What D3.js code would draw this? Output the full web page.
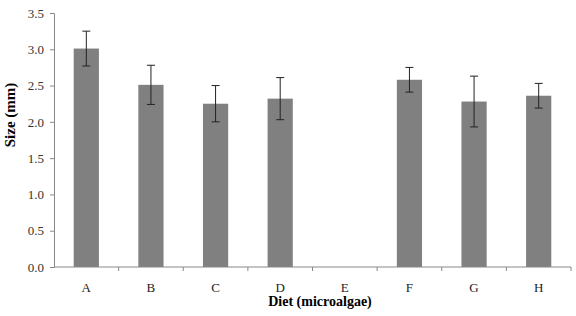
<!DOCTYPE html>
<html>
<head>
<meta charset="utf-8">
<script src="https://cdn.jsdelivr.net/npm/d3@7"></script>
<style>
  body { margin: 0; background: #fff; }
  text { font-family: "Liberation Serif", "Times New Roman", serif; }
</style>
</head>
<body>
<div id="chart"></div>
<script>
// chart values
const diets = ["A", "B", "C", "D", "E", "F", "G", "H"];
const sizes = [3.01, 2.51, 2.25, 2.32, null, 2.58, 2.28, 2.36];
const errors = [0.24, 0.27, 0.25, 0.29, null, 0.17, 0.35, 0.17];
const yTicks = [0, 0.5, 1.0, 1.5, 2.0, 2.5, 3.0, 3.5];

let width = 576,
    height = 316,
    margin = ({ top: 13, right: 5, bottom: 49, left: 54 });

const svg = d3.select("#chart")
  .append("svg")
  .attr("width", width)
  .attr("height", height);

const data = diets.map((d, i) => ({ diet: d, size: sizes[i], err: errors[i] }));

// band scale for diets, linear for size
let x = d3.scaleBand()
  .domain(diets)
  .range([margin.left, width - margin.right])
  .paddingInner(0.61)
  .paddingOuter(0.305);

let y = d3.scaleLinear()
  .domain([0, 3.5])
  .range([height - margin.bottom, margin.top]);

// bars
svg.append("g")
  .attr("fill", "#808080")
  .selectAll("rect")
  .data(data.filter(d => d.size != null))
  .join("rect")
  .attr("x", d => x(d.diet))
  .attr("y", d => y(d.size))
  .attr("width", x.bandwidth())
  .attr("height", d => y(0) - y(d.size));

// error bars
const eb = svg.append("g")
  .attr("stroke", "#222")
  .attr("stroke-width", 1)
  .selectAll("g")
  .data(data.filter(d => d.size != null))
  .join("g")
  .attr("transform", d => `translate(${x(d.diet) + x.bandwidth() / 2},0)`);

eb.append("line")
  .attr("y1", d => y(d.size + d.err))
  .attr("y2", d => y(d.size - d.err));
eb.append("line")
  .attr("x1", -4).attr("x2", 4)
  .attr("y1", d => y(d.size + d.err))
  .attr("y2", d => y(d.size + d.err));
eb.append("line")
  .attr("x1", -4).attr("x2", 4)
  .attr("y1", d => y(d.size - d.err))
  .attr("y2", d => y(d.size - d.err));

// y axis
const yAxis = svg.append("g")
  .attr("transform", `translate(${margin.left},0)`)
  .call(d3.axisLeft(y).tickValues(yTicks).tickFormat(d3.format(".1f")).tickSize(4).tickPadding(6));
yAxis.select(".domain").attr("stroke", "#888");
yAxis.selectAll(".tick line").attr("stroke", "#888");
yAxis.selectAll(".tick text")
  .attr("fill", "#333")
  .style("font-size", "13px")
  .style("font-family", "Liberation Serif, serif");

// x axis: ticks between categories
const xAxis = svg.append("g")
  .attr("transform", `translate(0,${y(0)})`);
xAxis.append("line")
  .attr("x1", margin.left).attr("x2", width - margin.right)
  .attr("stroke", "#888");
const step = x.step();
xAxis.selectAll(".sep")
  .data(diets)
  .join("line")
  .attr("class", "sep")
  .attr("x1", d => x(d) + x.bandwidth() / 2 + step / 2)
  .attr("x2", d => x(d) + x.bandwidth() / 2 + step / 2)
  .attr("y1", 0).attr("y2", 4)
  .attr("stroke", "#888");
xAxis.selectAll(".lab")
  .data(diets)
  .join("text")
  .attr("class", "lab")
  .attr("x", d => x(d) + x.bandwidth() / 2)
  .attr("y", 25)
  .attr("text-anchor", "middle")
  .attr("fill", "#222")
  .style("font-size", "13px")
  .text(d => d);

// axis titles
svg.append("text")
  .attr("x", 320)
  .attr("y", 306)
  .attr("text-anchor", "middle")
  .attr("font-weight", "bold")
  .style("font-size", "14px")
  .text("Diet (microalgae)");

svg.append("text")
  .attr("transform", "translate(15,115) rotate(-90)")
  .attr("text-anchor", "middle")
  .attr("font-weight", "bold")
  .style("font-size", "15px")
  .text("Size (mm)");
</script>
</body>
</html>
